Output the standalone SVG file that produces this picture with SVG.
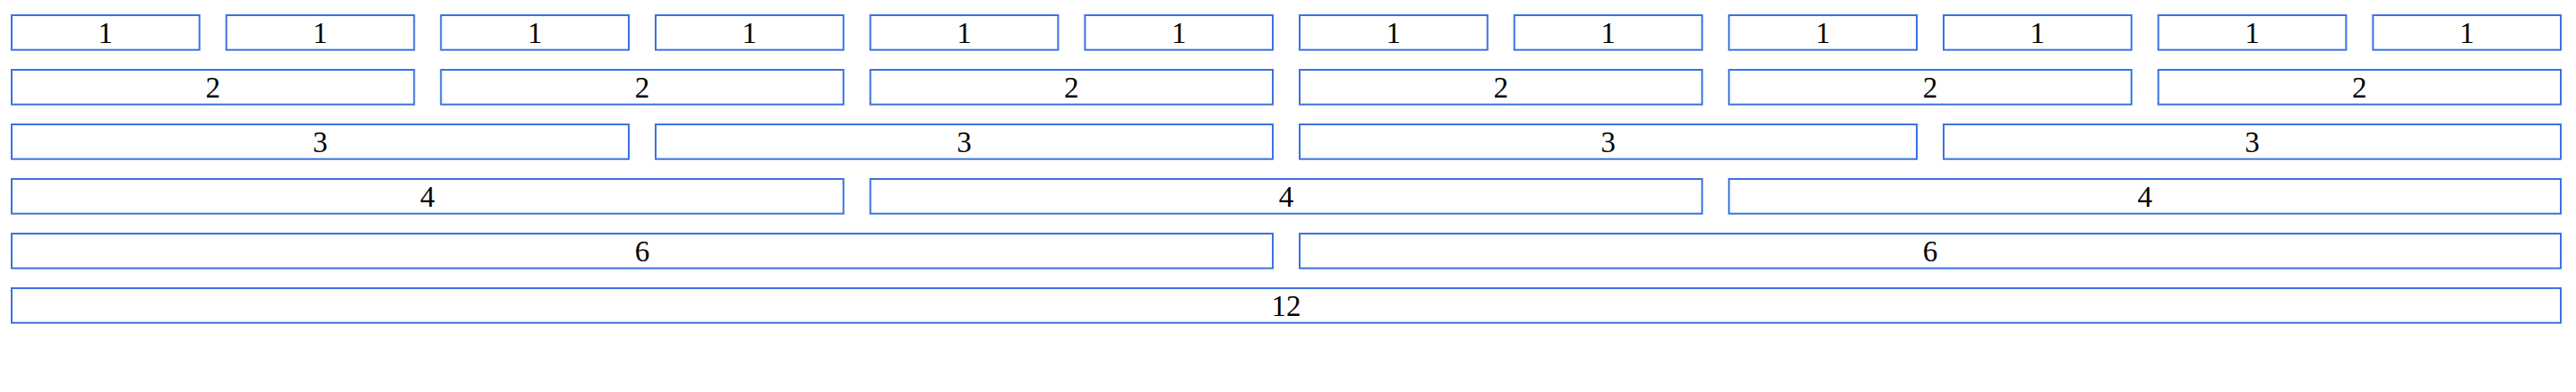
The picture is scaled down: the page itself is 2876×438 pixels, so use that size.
<svg xmlns="http://www.w3.org/2000/svg" width="2876" height="438" viewBox="0 0 2876 438">
<style>
.b{fill:#ffffff;stroke:#3b72e2;stroke-width:2}
.t{font-family:"Liberation Serif","Times New Roman",serif;font-size:33px;fill:#000;text-anchor:middle}
</style>
<rect width="2876" height="438" fill="#ffffff"/>
<g id="row1">
<g id="r1c1"><rect class="b" x="13" y="17" width="209.67" height="38.7"/><text class="t" x="117.83" y="47.7">1</text></g>
<g id="r1c2"><rect class="b" x="252.67" y="17" width="209.67" height="38.7"/><text class="t" x="357.5" y="47.7">1</text></g>
<g id="r1c3"><rect class="b" x="492.33" y="17" width="209.67" height="38.7"/><text class="t" x="597.17" y="47.7">1</text></g>
<g id="r1c4"><rect class="b" x="732" y="17" width="209.67" height="38.7"/><text class="t" x="836.83" y="47.7">1</text></g>
<g id="r1c5"><rect class="b" x="971.67" y="17" width="209.67" height="38.7"/><text class="t" x="1076.5" y="47.7">1</text></g>
<g id="r1c6"><rect class="b" x="1211.33" y="17" width="209.67" height="38.7"/><text class="t" x="1316.17" y="47.7">1</text></g>
<g id="r1c7"><rect class="b" x="1451" y="17" width="209.67" height="38.7"/><text class="t" x="1555.83" y="47.7">1</text></g>
<g id="r1c8"><rect class="b" x="1690.67" y="17" width="209.67" height="38.7"/><text class="t" x="1795.5" y="47.7">1</text></g>
<g id="r1c9"><rect class="b" x="1930.33" y="17" width="209.67" height="38.7"/><text class="t" x="2035.17" y="47.7">1</text></g>
<g id="r1c10"><rect class="b" x="2170" y="17" width="209.67" height="38.7"/><text class="t" x="2274.83" y="47.7">1</text></g>
<g id="r1c11"><rect class="b" x="2409.67" y="17" width="209.67" height="38.7"/><text class="t" x="2514.5" y="47.7">1</text></g>
<g id="r1c12"><rect class="b" x="2649.33" y="17" width="209.67" height="38.7"/><text class="t" x="2754.17" y="47.7">1</text></g>
</g>
<g id="row2">
<g id="r2c1"><rect class="b" x="13" y="78" width="449.33" height="38.7"/><text class="t" x="237.67" y="108.7">2</text></g>
<g id="r2c2"><rect class="b" x="492.33" y="78" width="449.33" height="38.7"/><text class="t" x="717" y="108.7">2</text></g>
<g id="r2c3"><rect class="b" x="971.67" y="78" width="449.33" height="38.7"/><text class="t" x="1196.33" y="108.7">2</text></g>
<g id="r2c4"><rect class="b" x="1451" y="78" width="449.33" height="38.7"/><text class="t" x="1675.67" y="108.7">2</text></g>
<g id="r2c5"><rect class="b" x="1930.33" y="78" width="449.33" height="38.7"/><text class="t" x="2155" y="108.7">2</text></g>
<g id="r2c6"><rect class="b" x="2409.67" y="78" width="449.33" height="38.7"/><text class="t" x="2634.33" y="108.7">2</text></g>
</g>
<g id="row3">
<g id="r3c1"><rect class="b" x="13" y="139" width="689" height="38.7"/><text class="t" x="357.5" y="169.7">3</text></g>
<g id="r3c2"><rect class="b" x="732" y="139" width="689" height="38.7"/><text class="t" x="1076.5" y="169.7">3</text></g>
<g id="r3c3"><rect class="b" x="1451" y="139" width="689" height="38.7"/><text class="t" x="1795.5" y="169.7">3</text></g>
<g id="r3c4"><rect class="b" x="2170" y="139" width="689" height="38.7"/><text class="t" x="2514.5" y="169.7">3</text></g>
</g>
<g id="row4">
<g id="r4c1"><rect class="b" x="13" y="200" width="928.67" height="38.7"/><text class="t" x="477.33" y="230.7">4</text></g>
<g id="r4c2"><rect class="b" x="971.67" y="200" width="928.67" height="38.7"/><text class="t" x="1436" y="230.7">4</text></g>
<g id="r4c3"><rect class="b" x="1930.33" y="200" width="928.67" height="38.7"/><text class="t" x="2394.67" y="230.7">4</text></g>
</g>
<g id="row5">
<g id="r5c1"><rect class="b" x="13" y="261" width="1408" height="38.7"/><text class="t" x="717" y="291.7">6</text></g>
<g id="r5c2"><rect class="b" x="1451" y="261" width="1408" height="38.7"/><text class="t" x="2155" y="291.7">6</text></g>
</g>
<g id="row6">
<g id="r6c1"><rect class="b" x="13" y="322" width="2846" height="38.7"/><text class="t" x="1436" y="352.7">12</text></g>
</g>
<g id="connectors"></g>
</svg>
